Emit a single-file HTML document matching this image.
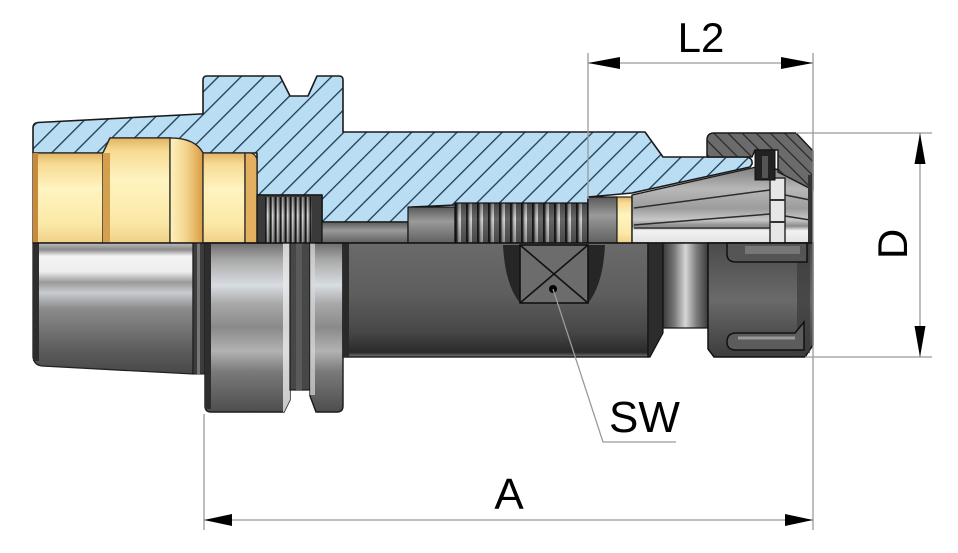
<!DOCTYPE html>
<html><head><meta charset="utf-8"><style>html,body{margin:0;padding:0;background:#fff}svg{display:block}</style></head>
<body>
<svg xmlns="http://www.w3.org/2000/svg" width="958" height="553" viewBox="0 0 958 553">
<defs>
<pattern id="hb" width="16" height="16" patternUnits="userSpaceOnUse" patternTransform="rotate(45)">
<rect width="16" height="16" fill="#b9ddf3"/>
<rect x="0" y="0" width="1.3" height="16" fill="#1f3a52"/>
</pattern>
<pattern id="hn" width="10" height="10" patternUnits="userSpaceOnUse" patternTransform="rotate(-45)">
<rect width="10" height="10" fill="#6b6b6b"/>
<rect x="0" y="0" width="1.2" height="10" fill="#262626"/>
</pattern>
<pattern id="t1" width="5" height="10" patternUnits="userSpaceOnUse" x="265">
<rect width="5" height="10" fill="#6d6d6d"/>
<rect x="0" width="1.2" height="10" fill="#1e1e1e"/>
<rect x="2" width="1.6" height="10" fill="#d4d4d4"/>
</pattern>
<pattern id="t2" width="11" height="10" patternUnits="userSpaceOnUse" x="455">
<rect width="11" height="10" fill="#666"/>
<rect x="0" width="1.8" height="10" fill="#1a1a1a"/>
<rect x="3" width="3" height="10" fill="#a8a8a8"/>
<rect x="4.5" width="1.2" height="10" fill="#e4e4e4"/>
</pattern>
<linearGradient id="gold" x1="0" y1="0" x2="0" y2="1">
<stop offset="0" stop-color="#e2b462"/><stop offset="0.12" stop-color="#f6da92"/>
<stop offset="0.4" stop-color="#fff4c0"/><stop offset="0.8" stop-color="#fbe8a6"/>
<stop offset="1" stop-color="#f0d088"/>
</linearGradient>
<linearGradient id="goldr" x1="0" y1="0" x2="1" y2="0">
<stop offset="0" stop-color="#fff2bd"/><stop offset="0.5" stop-color="#f3d28a"/>
<stop offset="1" stop-color="#d99d45"/>
</linearGradient>
<linearGradient id="shade" x1="0" y1="0" x2="0" y2="1">
<stop offset="0" stop-color="#000" stop-opacity="0.35"/><stop offset="0.4" stop-color="#000" stop-opacity="0"/>
<stop offset="1" stop-color="#000" stop-opacity="0.3"/>
</linearGradient>
<linearGradient id="cone" x1="0" y1="0" x2="0" y2="1">
<stop offset="0" stop-color="#bdbdbd"/><stop offset="0.05" stop-color="#8a8a8a"/>
<stop offset="0.1" stop-color="#f4f4f4"/><stop offset="0.22" stop-color="#eeeeee"/>
<stop offset="0.3" stop-color="#9a9a9a"/><stop offset="0.38" stop-color="#c8ccd0"/>
<stop offset="0.5" stop-color="#8c8c8c"/><stop offset="0.62" stop-color="#7a7a7a"/>
<stop offset="0.82" stop-color="#5c5c5c"/><stop offset="1" stop-color="#484848"/>
</linearGradient>
<linearGradient id="fl" x1="0" y1="0" x2="0" y2="1">
<stop offset="0" stop-color="#6e6e6e"/><stop offset="0.1" stop-color="#a8a8a8"/>
<stop offset="0.25" stop-color="#d8dde2"/><stop offset="0.36" stop-color="#a8a8a8"/>
<stop offset="0.5" stop-color="#8a8a8a"/><stop offset="0.64" stop-color="#b2b2b2"/>
<stop offset="0.76" stop-color="#7a7a7a"/><stop offset="1" stop-color="#4e4e4e"/>
</linearGradient>
<linearGradient id="body" x1="0" y1="0" x2="0" y2="1">
<stop offset="0" stop-color="#6a6a6a"/><stop offset="0.45" stop-color="#5e5e5e"/>
<stop offset="0.78" stop-color="#474747"/><stop offset="0.96" stop-color="#2a2a2a"/>
<stop offset="1" stop-color="#7a7a7a"/>
</linearGradient>
<linearGradient id="neck" x1="0" y1="0" x2="1" y2="0">
<stop offset="0" stop-color="#3a3a3a"/><stop offset="0.25" stop-color="#777"/>
<stop offset="0.5" stop-color="#d6d6d6"/><stop offset="0.75" stop-color="#7a7a7a"/>
<stop offset="1" stop-color="#3a3a3a"/>
</linearGradient>
<linearGradient id="nut" x1="0" y1="0" x2="0" y2="1">
<stop offset="0" stop-color="#4a4a4a"/><stop offset="0.5" stop-color="#6a6a6a"/>
<stop offset="1" stop-color="#3c3c3c"/>
</linearGradient>
<linearGradient id="col" x1="0" y1="0" x2="0" y2="1">
<stop offset="0" stop-color="#7c7c7c"/><stop offset="0.3" stop-color="#b8b8b8"/>
<stop offset="0.55" stop-color="#9c9c9c"/><stop offset="0.7" stop-color="#c8c8c8"/>
<stop offset="0.78" stop-color="#8a8a8a"/><stop offset="0.84" stop-color="#f2f2f2"/>
<stop offset="1" stop-color="#e2e2e2"/>
</linearGradient>
<linearGradient id="rod" x1="0" y1="0" x2="0" y2="1">
<stop offset="0" stop-color="#5a5a5a"/><stop offset="0.4" stop-color="#9a9a9a"/>
<stop offset="1" stop-color="#606060"/>
</linearGradient>
</defs>

<!-- blue section -->
<path d="M33,128 Q33,123 38,122.5 L200,114 L203,114 L203,80 Q203,76 207,76 L280,76 L290,96 L308,96 L317,76 L339,76 Q343,76 343,80 L343,132 L645,132 L663,157 L746,157 Q753,158 752,164 L750,167 L632,193 L588,197 L588,205 L455,205 L412,207 L408,222 L322,222 L322,195 L257,195 L257,153 L203,153 Q195,138 170,138 L110,138 L103,153 L33,153 Z" fill="url(#hb)" stroke="#1a1a1a" stroke-width="1.6" stroke-linejoin="round"/>

<!-- gold pieces -->
<g stroke="#2a2a2a" stroke-width="1.3">
<rect x="33" y="153" width="70" height="90" fill="url(#gold)"/>
<rect x="33" y="153" width="5" height="90" fill="#c98a3a" stroke="none"/>
<path d="M103,153 L110,138 L170,138 L170,243 L103,243 Z" fill="url(#gold)"/>
<rect x="103" y="153" width="7" height="90" fill="#d4a04e" stroke="none"/>
<path d="M170,138 Q195,138 203,153 L203,243 L170,243 Z" fill="url(#goldr)"/>
<rect x="203" y="153" width="42" height="90" fill="url(#gold)"/>
<path d="M245,153 L251,153 Q257,155 257,161 L257,243 L245,243 Z" fill="#e2b060"/>
</g>

<!-- thread 1 -->
<rect x="257" y="195" width="65" height="48" fill="#3a3a3a" stroke="#111" stroke-width="1.2"/>
<rect x="265" y="197" width="47" height="46" fill="url(#t1)"/>
<rect x="265" y="197" width="47" height="46" fill="url(#shade)"/>
<!-- rod -->
<rect x="322" y="222" width="86" height="21" fill="url(#rod)" stroke="#111" stroke-width="1.2"/>
<rect x="408" y="207" width="47" height="36" fill="url(#rod)" stroke="#111" stroke-width="1.2"/>
<!-- thread 2 -->
<rect x="455" y="203" width="133" height="40" fill="url(#t2)" stroke="#111" stroke-width="1.2"/>
<rect x="455" y="203" width="133" height="40" fill="url(#shade)"/>
<rect x="588" y="197" width="29" height="46" fill="url(#rod)" stroke="#111" stroke-width="1.2"/>
<rect x="617" y="197" width="15" height="46" fill="url(#gold)" stroke="#222" stroke-width="1.2"/>

<!-- collet -->
<path d="M632,195 L752,168 L760,166 L810,176 L810,243 L632,243 Z" fill="url(#col)" stroke="#1a1a1a" stroke-width="1.4"/>
<g stroke="#2c2c2c" stroke-width="1.5">
<line x1="634" y1="208" x2="770" y2="190"/>
<line x1="634" y1="225" x2="770" y2="214"/>
<line x1="634" y1="228" x2="770" y2="228"/>
<line x1="785" y1="195" x2="810" y2="200"/>
<line x1="785" y1="216" x2="810" y2="220"/>
</g>
<rect x="770" y="178" width="15" height="65" fill="#e6e6e6" stroke="#222" stroke-width="1.4"/>
<line x1="770" y1="200" x2="785" y2="200" stroke="#333" stroke-width="2"/>
<line x1="770" y1="222" x2="785" y2="222" stroke="#333" stroke-width="2"/>

<!-- nut section -->
<path d="M707,140 Q707,133 714,133 L796,133 L813,151 L813,190 L778,172 L778,150 L755,150 L752,157 L707,157 Z" fill="url(#hn)" stroke="#1a1a1a" stroke-width="1.5" stroke-linejoin="round"/>
<rect x="755" y="150" width="20" height="30" fill="#222" stroke="#111" stroke-width="1"/>
<rect x="762" y="156" width="6" height="22" fill="#555"/>
<rect x="808" y="175" width="5" height="68" fill="#333"/>

<!-- lower half: cone -->
<path d="M33,243 L193,243 L193,374 L42,366 Q34,365 33,357 Z" fill="url(#cone)" stroke="#222" stroke-width="1.3"/>
<rect x="33" y="243" width="6" height="118" fill="#2e2e2e"/>
<rect x="193" y="243" width="12" height="131" fill="#3c3c3c" stroke="#1a1a1a" stroke-width="1"/>
<rect x="197" y="243" width="3" height="131" fill="#777"/>
<!-- flange 1 -->
<path d="M205,243 L290,243 L290,400 L284,412 L211,412 Q205,412 205,406 Z" fill="url(#fl)" stroke="#1a1a1a" stroke-width="1.4"/>
<rect x="205" y="243" width="6" height="166" fill="#2e2e2e"/>
<path d="M283,243 L290,243 L290,400 L284,412 L283,412 Z" fill="#e8e8e8" opacity="0.8"/>
<!-- groove -->
<rect x="290" y="243" width="20" height="147" fill="#474747" stroke="#1a1a1a" stroke-width="1.2"/>
<rect x="296" y="243" width="6" height="147" fill="#5a5a5a"/>
<!-- flange 2 -->
<path d="M310,243 L343,243 L343,406 Q343,412 337,412 L316,412 L310,396 Z" fill="url(#fl)" stroke="#1a1a1a" stroke-width="1.4"/>
<rect x="310" y="243" width="5" height="152" fill="#d8d8d8" opacity="0.7"/>
<!-- body -->
<rect x="343" y="243" width="305" height="114" fill="url(#body)" stroke="#1a1a1a" stroke-width="1.4"/>
<rect x="343" y="243" width="6" height="114" fill="#2a2a2a"/>
<!-- wrench flat -->
<path d="M503,245 Q505,285 520,303 L520,245 Z" fill="#262626"/>
<path d="M588,245 L605,245 Q603,285 588,303 Z" fill="#262626"/>
<rect x="520" y="245" width="68" height="58" fill="#6c6c6c" stroke="#111" stroke-width="1.6"/>
<line x1="520" y1="245" x2="588" y2="303" stroke="#111" stroke-width="1.6"/>
<line x1="588" y1="245" x2="520" y2="303" stroke="#111" stroke-width="1.6"/>
<circle cx="553" cy="289" r="4" fill="#000"/>
<!-- step & neck -->
<path d="M648,243 L663,243 L663,333 L650,357 L648,357 Z" fill="#2c2c2c" stroke="#111" stroke-width="1.2"/>
<rect x="663" y="243" width="45" height="85" fill="url(#neck)" stroke="#111" stroke-width="1.2"/>
<!-- nut lower -->
<path d="M708,243 L813,243 L813,345 L805,357 L714,357 L708,349 Z" fill="url(#nut)" stroke="#111" stroke-width="1.5"/>
<rect x="797" y="243" width="13" height="110" fill="#3a3a3a" opacity="0.7"/>
<path d="M727,243 L807,243 L807,262 L736,262 Q727,262 727,254 Z" fill="#555" stroke="#111" stroke-width="1.5"/>
<rect x="745" y="246" width="55" height="8" fill="#777"/>
<path d="M736,333 L795,333 L804,322 L804,350 L736,350 Q727,350 727,342 Q727,333 736,333 Z" fill="#5c5c5c" stroke="#111" stroke-width="1.5"/>
<path d="M738,338 L795,338" stroke="#999" stroke-width="3"/>

<!-- centre separation line -->
<line x1="33" y1="243" x2="810" y2="243" stroke="#111" stroke-width="1.2"/>

<!-- dimension lines -->
<g stroke="#9a9a9a" stroke-width="1.3" fill="none">
<line x1="588" y1="53" x2="588" y2="199"/>
<line x1="813" y1="53" x2="813" y2="530"/>
<line x1="588" y1="63" x2="813" y2="63"/>
<line x1="796" y1="133" x2="932" y2="133"/>
<line x1="805" y1="357" x2="932" y2="357"/>
<line x1="920" y1="133" x2="920" y2="357"/>
<line x1="204" y1="414" x2="204" y2="530"/>
<line x1="204" y1="520" x2="813" y2="520"/>
<polyline points="553,289 603,442 676,442"/>
</g>
<g fill="#000">
<polygon points="588,63 620,57 620,69"/>
<polygon points="813,63 781,57 781,69"/>
<polygon points="920,133 914.5,164 925.5,164"/>
<polygon points="920,357 914.5,326 925.5,326"/>
<polygon points="204,520 232,514 232,526"/>
<polygon points="813,520 785,514 785,526"/>
</g>

<g font-family="Liberation Sans, Arial, sans-serif" fill="#000">
<text x="701" y="52" font-size="42" text-anchor="middle">L2</text>
<text transform="translate(907,244) rotate(-90)" x="0" y="0" font-size="42" text-anchor="middle">D</text>
<text x="609" y="432" font-size="44">SW</text>
<text x="509" y="509" font-size="44" text-anchor="middle">A</text>
</g>
</svg>
</body></html>
